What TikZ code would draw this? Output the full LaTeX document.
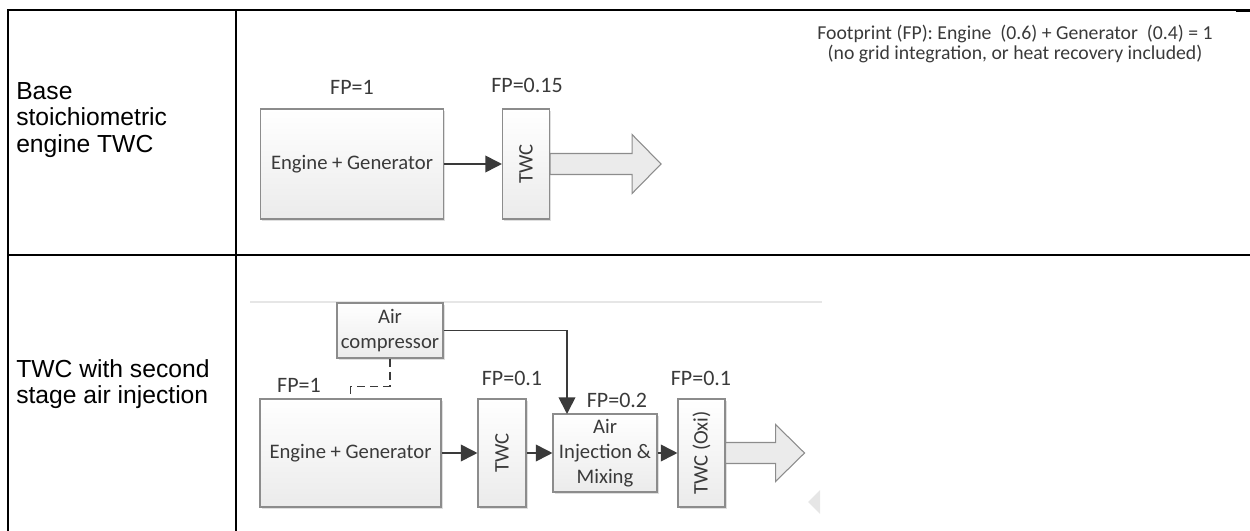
\documentclass[tikz,border=0pt]{standalone}
\usepackage{fontspec}
\setmainfont{Carlito}
\newfontfamily\arialfont{Liberation Sans}
\usetikzlibrary{arrows.meta, positioning, shadows}

\definecolor{boxline}{HTML}{8C8C8C}
\definecolor{flowgray}{HTML}{3A3A3A}
\definecolor{fillbot}{HTML}{EBEBEB}
\definecolor{faint}{HTML}{E6E6E6}

\tikzset{
  sizepx/.style n args={2}{minimum width=#1*0.75pt, minimum height=#2*0.75pt},
  block/.style={draw=boxline, line width=0.8pt, top color=white, bottom color=fillbot,
    inner sep=0pt, align=center, text=flowgray, font=\fontsize{15.5}{18.75}\selectfont,
    drop shadow={shadow xshift=1.2pt, shadow yshift=-1.2pt, opacity=0.25}},
  fplabel/.style={text=flowgray, font=\fontsize{16.5}{18}\selectfont},
  flow/.style={draw=flowgray, line width=1.3pt, -{Triangle[length=12.5pt, width=12.5pt]}},
  link/.style={draw=flowgray, line width=1.2pt, dash pattern=on 6pt off 4pt},
  bigarrow/.style={draw=boxline, line width=0.8pt, fill=fillbot},
  rowlabel/.style={anchor=west, align=left, inner sep=0pt,
    font=\arialfont\fontsize{18.5}{19.9}\selectfont},
  tableline/.style={line width=1.6pt}
}

\begin{document}
\begin{tikzpicture}[x=0.75pt, y=-0.75pt]
  \useasboundingbox (0,0) rectangle (1250,531);

  % Table
  \draw[tableline] (7.2,10) -- (250,10);
  \draw[line width=0.8pt] (250,10) -- (1236,10);
  \draw[tableline] (1236,10.5) -- (1250,10.5);
  \draw[tableline] (8,9.2) -- (8,531);
  \draw[tableline] (236,9.2) -- (236,531);
  \draw[tableline] (7.2,255) -- (1250,255);

  % Row labels
  \node[rowlabel] (base) at (16,120) {Base\\stoichiometric\\engine TWC};
  \node[rowlabel] (second) at (16,384) {TWC with second\\stage air injection};

  % Footprint note
  \node[text=flowgray, align=center, font=\fontsize{14.8}{15}\selectfont] (note) at (1015,44)
    {Footprint (FP): Engine\ \ (0.6) + Generator\ \ (0.4) = 1\\(no grid integration, or heat recovery included)};

  % Base engine with TWC
  \node[block, sizepx={183}{110}] (eng1) at (352,164) {Engine + Generator};
  \node[block, sizepx={47}{110}] (twc1) at (526,164) {\rotatebox{90}{TWC}};
  \node[fplabel] (fp1) at (352,87) {FP=1};
  \node[fplabel] (fp2) at (527,85) {FP=0.15};
  \draw[flow] (eng1) -- (twc1);
  \draw[bigarrow] (twc1.east) ++(0,-10.5) -- ++(82,0) -- ++(0,-19) -- ++(29,29.5)
    -- ++(-29,29.5) -- ++(0,-19) -- ++(-82,0) -- cycle;

  % Second stage air injection
  \draw[faint, line width=0.8pt] (250,302) -- (822,302);
  \node[block, sizepx={106}{55}] (comp) at (390,330.5) {Air\\compressor};
  \node[block, sizepx={181}{108}] (eng2) at (350.5,453) {Engine + Generator};
  \node[block, sizepx={48}{108}] (twc2) at (502,453) {\rotatebox{90}{TWC}};
  \node[block, sizepx={104}{78}] (mix) at (605,453) {Air\\Injection \&\\Mixing};
  \node[block, sizepx={47}{108}] (oxi) at (701.5,453) {\rotatebox{90}{TWC (Oxi)}};
  \coordinate (inlet) at (567,414);
  \node[fplabel] (fp3) at (299,385) {FP=1};
  \node[fplabel] (fp4) at (512,378) {FP=0.1};
  \node[fplabel] (fp5) at (617,400) {FP=0.2};
  \node[fplabel] (fp6) at (701,378) {FP=0.1};
  \draw[flow] (eng2) -- (twc2);
  \draw[flow] (twc2) -- (mix);
  \draw[flow] (mix) -- (oxi);
  \draw[flow] (comp.east) -| (inlet);
  \draw[link] (comp.south) -- ++(0,28) -| (eng2.north);
  \draw[bigarrow] (oxi.east) ++(0,-10.5) -- ++(50,0) -- ++(0,-18) -- ++(29,28.5)
    -- ++(-29,28.5) -- ++(0,-18) -- ++(-50,0) -- cycle;
  \fill[faint] (820,490) -- (808,502) -- (820,514) -- cycle;
\end{tikzpicture}
\end{document}
